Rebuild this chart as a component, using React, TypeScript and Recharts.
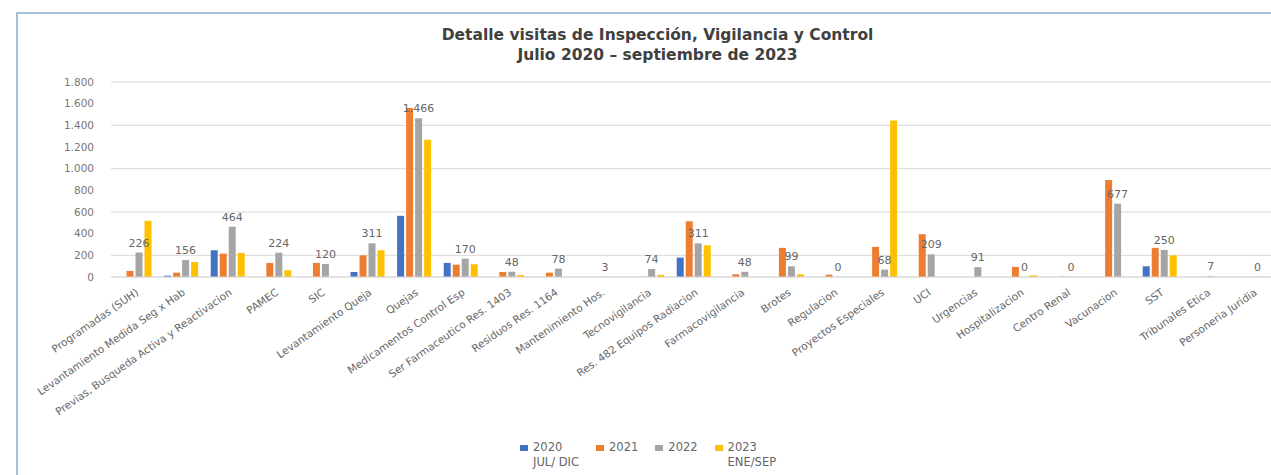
import { BarChart, Bar, XAxis, YAxis, CartesianGrid, LabelList } from "recharts";

const categories = [
  "Programadas (SUH)",
  "Levantamiento Medida Seg x Hab",
  "Previas, Busqueda Activa y Reactivacion",
  "PAMEC",
  "SIC",
  "Levantamiento Queja",
  "Quejas",
  "Medicamentos Control Esp",
  "Ser Farmaceutico  Res. 1403",
  "Residuos Res. 1164",
  "Mantenimiento Hos.",
  "Tecnovigilancia",
  "Res. 482 Equipos Radiacion",
  "Farmacovigilancia",
  "Brotes",
  "Regulacion",
  "Proyectos Especiales",
  "UCI",
  "Urgencias",
  "Hospitalizacion",
  "Centro Renal",
  "Vacunacion",
  "SST",
  "Tribunales Etica",
  "Personeria Juridia",
];

const visits2020 = [0, 12, 247, 0, 0, 46, 565, 130, 0, 0, 0, 0, 179, 0, 0, 0, 0, 0, 0, 0, 0, 0, 99, 0, 0];
const visits2021 = [56, 40, 216, 130, 130, 200, 1559, 114, 46, 40, 0, 3, 515, 25, 269, 22, 278, 395, 0, 93, 4, 895, 269, 0, 0];
const visits2022 = [226, 156, 464, 224, 120, 311, 1466, 170, 48, 78, 3, 74, 311, 48, 99, 0, 68, 209, 91, 0, 0, 677, 250, 7, 0];
const visits2023 = [519, 139, 222, 62, 0, 247, 1266, 117, 18, 0, 0, 20, 293, 0, 25, 0, 1445, 0, 0, 15, 0, 0, 200, 0, 0];

const yTicks = [0, 200, 400, 600, 800, 1000, 1200, 1400, 1600, 1800];

const series = [
  { key: "y2020", name: "2020", sub: "JUL/ DIC", color: "#4472C4" },
  { key: "y2021", name: "2021", sub: "", color: "#ED7D31" },
  { key: "y2022", name: "2022", sub: "", color: "#A5A5A5" },
  { key: "y2023", name: "2023", sub: "ENE/SEP", color: "#FFC000" },
];

const data = categories.map((name, i) => ({
  name,
  y2020: visits2020[i],
  y2021: visits2021[i],
  y2022: visits2022[i],
  y2023: visits2023[i],
}));

const font = "'DejaVu Sans', sans-serif";
const fmt = (v: number) => v.toLocaleString("de-DE");

function AngledTick({ x, y, payload }: any) {
  return (
    <text
      x={x + 3}
      y={y + 12}
      dy="0.35em"
      transform={`rotate(-35, ${x + 3}, ${y + 12})`}
      textAnchor="end"
      fontSize={10.5}
      fill="#666"
      fontFamily={font}
    >
      {payload.value}
    </text>
  );
}

export default function App() {
  return (
    <div style={{ position: "absolute", left: 0, top: 0, width: 1271, height: 475, overflow: "hidden", background: "#fff" }}>
      <div
        style={{
          position: "absolute",
          left: 16,
          top: 12,
          width: 1300,
          height: 500,
          borderLeft: "2px solid #a9bde0",
          borderTop: "2px solid #a9bde0",
        }}
      />
      <div
        style={{
          position: "absolute",
          left: 0,
          top: 26,
          width: 1315,
          textAlign: "center",
          fontFamily: font,
          fontWeight: "bold",
          fontSize: 15.5,
          lineHeight: "19.5px",
          color: "#404040",
        }}
      >
        <div>Detalle visitas de Inspección, Vigilancia y Control</div>
        <div>Julio 2020 – septiembre de 2023</div>
      </div>
      <div style={{ position: "absolute", left: 0, top: 0 }}>
        <BarChart
          width={1290}
          height={475}
          data={data}
          margin={{ top: 82, right: 14, bottom: 8, left: 0 }}
          barCategoryGap="14%"
          barGap={2}
        >
          <CartesianGrid vertical={false} stroke="#d9d9d9" />
          <XAxis
            dataKey="name"
            interval={0}
            height={190}
            tickLine={false}
            tickSize={0}
            tick={<AngledTick />}
            axisLine={{ stroke: "#d9d9d9" }}
          />
          <YAxis
            width={111}
            domain={[0, 1800]}
            ticks={yTicks}
            tickFormatter={fmt}
            axisLine={false}
            tickLine={false}
            tickSize={0}
            tickMargin={17}
            tick={{ fill: "#777", fontSize: 10.5, fontFamily: font }}
          />
          {series.map((s) => (
            <Bar
              key={s.key}
              dataKey={s.key}
              name={s.name}
              fill={s.color}
              minPointSize={s.key === "y2022" ? 0.1 : 0}
              isAnimationActive={false}
            >
              {s.key === "y2022" && (
                <LabelList
                  dataKey="y2022"
                  position="top"
                  offset={6}
                  formatter={(v: any) => fmt(Number(v))}
                  style={{ fill: "#666", fontSize: 11, fontFamily: font }}
                />
              )}
            </Bar>
          ))}
        </BarChart>
      </div>
      <div
        style={{
          position: "absolute",
          left: 520,
          top: 440,
          display: "flex",
          gap: 17,
          fontFamily: font,
          fontSize: 11.5,
          lineHeight: "15px",
          color: "#666",
        }}
      >
        {series.map((s) => (
          <div key={s.key} style={{ display: "flex", alignItems: "flex-start" }}>
            <span style={{ width: 8, height: 6, background: s.color, marginTop: 5, marginRight: 5 }} />
            <span>
              {s.name}
              {s.sub && <br />}
              {s.sub}
            </span>
          </div>
        ))}
      </div>
    </div>
  );
}
